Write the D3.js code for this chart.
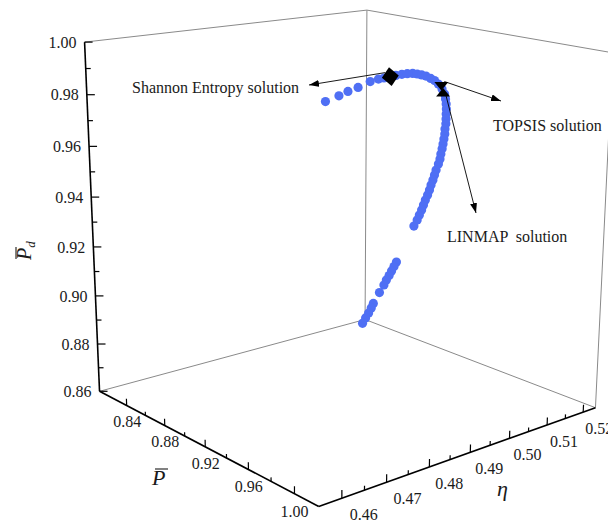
<!DOCTYPE html>
<html>
<head>
<meta charset="utf-8">
<script src="https://cdn.jsdelivr.net/npm/d3@7"></script>
<style>
  body { margin: 0; background: #fff; }
  text { font-family: "Liberation Serif", "Times New Roman", serif; fill: #1a1a1a; }
</style>
</head>
<body>
<div id="container"></div>
<script>
// Pareto front (P-bar, eta, Pd-bar)
const powerVals = [0.990, 0.985, 0.980, 0.975, 0.970, 0.966, 0.961, 0.955, 0.953, 0.950,
  0.948, 0.946, 0.944, 0.941, 0.939, 0.937, 0.935, 0.932, 0.930, 0.928,
  0.926, 0.924, 0.921, 0.919, 0.917, 0.915, 0.913, 0.911, 0.909, 0.907,
  0.904, 0.902, 0.900, 0.898, 0.895, 0.893, 0.891, 0.889, 0.887, 0.885,
  0.883, 0.880, 0.878, 0.876, 0.874, 0.872, 0.856, 0.854, 0.852, 0.850,
  0.848, 0.846, 0.843, 0.838, 0.837, 0.834, 0.832, 0.830];
const etaVals = [0.4645, 0.4687, 0.4720, 0.4756, 0.4797, 0.4827, 0.4854, 0.4886, 0.4905, 0.4928,
  0.4947, 0.4966, 0.4983, 0.5003, 0.5020, 0.5038, 0.5054, 0.5073, 0.5089, 0.5102,
  0.5111, 0.5119, 0.5129, 0.5135, 0.5141, 0.5147, 0.5151, 0.5157, 0.5161, 0.5165,
  0.5172, 0.5175, 0.5179, 0.5181, 0.5184, 0.5186, 0.5188, 0.5189, 0.5191, 0.5192,
  0.5192, 0.5196, 0.5197, 0.5197, 0.5197, 0.5194, 0.5193, 0.5192, 0.5191, 0.5190,
  0.5188, 0.5187, 0.5183, 0.5180, 0.5177, 0.5178, 0.5175, 0.5172];
const pdVals = [0.9935, 0.9939, 0.9941, 0.9941, 0.9947, 0.9945, 0.9938, 0.9930, 0.9928, 0.9924,
  0.9920, 0.9915, 0.9907, 0.9896, 0.9886, 0.9871, 0.9857, 0.9836, 0.9811, 0.9786,
  0.9762, 0.9739, 0.9713, 0.9689, 0.9665, 0.9642, 0.9618, 0.9594, 0.9570, 0.9546,
  0.9520, 0.9495, 0.9471, 0.9447, 0.9417, 0.9393, 0.9369, 0.9344, 0.9320, 0.9296,
  0.9271, 0.9244, 0.9220, 0.9195, 0.9171, 0.9142, 0.8959, 0.8936, 0.8913, 0.8890,
  0.8867, 0.8842, 0.8804, 0.8747, 0.8726, 0.8697, 0.8672, 0.8645];

const shannonPoint = [0.955, 0.4886, 0.9930];
const topsisPoint = [0.931, 0.5084, 0.9823];
const linmapPoint = [0.929, 0.5095, 0.9797];

const powerTicks = [0.84, 0.88, 0.92, 0.96, 1.00];
const powerMinor = [0.86, 0.90, 0.94, 0.98];
const etaTicks = [0.46, 0.47, 0.48, 0.49, 0.50, 0.51, 0.52];
const etaMinor = [0.465, 0.475, 0.485, 0.495, 0.505, 0.515];
const pdTicks = [0.86, 0.88, 0.90, 0.92, 0.94, 0.96, 0.98, 1.00];
const pdMinor = [0.87, 0.89, 0.91, 0.93, 0.95, 0.97, 0.99];

// where the box corners land on screen (camera fit)
const cameraAnchors = [
  [[0, 0, 0], [99, 390]], [[1, 0, 0], [320, 507]], [[1, 1, 0], [595, 408]], [[0, 1, 0], [365, 320]],
  [[0, 0, 1], [84, 43]], [[0, 1, 1], [368, 10]], [[1, 1, 1], [612, 52]]
];

// least squares fit of a 3x4 perspective matrix
function fitCamera(pairs) {
    const A = [], b = [];
    pairs.forEach(([[u, v, w], [x, y]]) => {
        A.push([u, v, w, 1, 0, 0, 0, 0, -x * u, -x * v, -x * w]); b.push(x);
        A.push([0, 0, 0, 0, u, v, w, 1, -y * u, -y * v, -y * w]); b.push(y);
    });
    const n = 11, M = [];
    for (let i = 0; i < n; i++) {
        M.push([]);
        for (let j = 0; j <= n; j++) {
            let s = 0;
            for (let k = 0; k < A.length; k++) s += A[k][i] * (j < n ? A[k][j] : b[k]);
            M[i].push(s);
        }
    }
    for (let i = 0; i < n; i++) {
        let p = i;
        for (let r = i + 1; r < n; r++) if (Math.abs(M[r][i]) > Math.abs(M[p][i])) p = r;
        [M[i], M[p]] = [M[p], M[i]];
        for (let r = 0; r < n; r++) {
            if (r === i) continue;
            const f = M[r][i] / M[i][i];
            for (let c = i; c <= n; c++) M[r][c] -= f * M[i][c];
        }
    }
    const m = [];
    for (let i = 0; i < n; i++) m.push(M[i][n] / M[i][i]);
    m.push(1);
    return m;
}

const cam = fitCamera(cameraAnchors);
function project(u, v, w) {
    const z = cam[8] * u + cam[9] * v + cam[10] * w + cam[11];
    return [(cam[0] * u + cam[1] * v + cam[2] * w + cam[3]) / z,
            (cam[4] * u + cam[5] * v + cam[6] * w + cam[7]) / z];
}

const x = d3.scaleLinear().domain([0.81, 1.02]).range([0, 1]);
const y = d3.scaleLinear().domain([0.455, 0.5235]).range([0, 1]);
const z = d3.scaleLinear().domain([0.86, 1.00]).range([0, 1]);
const pt = (p, e, d) => project(x(p), y(e), z(d));

const svg = d3.select("#container").append("svg")
    .attr("width", 608)
    .attr("height", 522);

const defs = svg.append("defs");
defs.append("marker")
    .attr("id", "arrow")
    .attr("viewBox", "0 0 10 7")
    .attr("refX", 10).attr("refY", 3.5)
    .attr("markerWidth", 10).attr("markerHeight", 7)
    .attr("markerUnits", "userSpaceOnUse")
    .attr("orient", "auto")
  .append("path")
    .attr("d", "M0,0L10,3.5L0,7Z")
    .attr("fill", "#000");

const line = d3.line();

// back walls of the box
const edges = [
    [[0, 0, 0], [0, 1, 0]], [[0, 1, 0], [1, 1, 0]], [[0, 1, 0], [0, 1, 1]],
    [[0, 0, 1], [0, 1, 1]], [[0, 1, 1], [1, 1, 1]], [[1, 1, 0], [1, 1, 1]]
];
svg.append("g").selectAll("path")
    .data(edges)
  .enter().append("path")
    .attr("d", d => line(d.map(c => project(...c))))
    .attr("stroke", "#8a8a8a")
    .attr("stroke-width", 1)
    .attr("fill", "none");

// axes
const axes = svg.append("g").attr("stroke", "#000").attr("fill", "none");
axes.append("path").attr("d", line([project(0, 0, 0), project(0, 0, 1)])).attr("stroke-width", 1.6);
axes.append("path").attr("d", line([project(0, 0, 0), project(1, 0, 0)])).attr("stroke-width", 1.6);
axes.append("path").attr("d", line([project(1, 0, 0), project(1, 1, 0)])).attr("stroke-width", 1.6);

// ticks
const tickG = svg.append("g").attr("stroke", "#000").attr("stroke-width", 1.2);
powerTicks.concat(powerMinor).forEach(p => {
    const len = powerTicks.includes(p) ? 0.02 : 0.011;
    tickG.append("path").attr("d", line([project(x(p), 0, 0), project(x(p), 0, len)]));
});
etaTicks.concat(etaMinor).forEach(e => {
    const len = etaTicks.includes(e) ? 0.022 : 0.012;
    tickG.append("path").attr("d", line([project(1, y(e), 0), project(1, y(e), len)]));
});
pdTicks.concat(pdMinor).forEach(d => {
    const [px, py] = project(0, 0, z(d));
    const len = pdTicks.includes(d) ? 8 : 5;
    tickG.append("path").attr("d", line([[px, py], [px + len, py]]));
});

const labelG = svg.append("g").style("font-size", "16px");
pdTicks.forEach(d => {
    const [px, py] = project(0, 0, z(d));
    labelG.append("text")
        .attr("x", px - 8).attr("y", py)
        .attr("dy", "0.35em")
        .style("text-anchor", "end")
        .text(d.toFixed(2));
});
powerTicks.forEach(p => {
    const [px, py] = project(x(p), 0, -0.047);
    labelG.append("text")
        .attr("x", px).attr("y", py)
        .attr("dy", "0.35em")
        .style("text-anchor", "middle")
        .text(p.toFixed(2));
});
etaTicks.forEach((e, i) => {
    const [px, py] = project(1, y(e), 0);
    labelG.append("text")
        .attr("x", px + 22 - i).attr("y", py + 16.5)
        .attr("dy", "0.35em")
        .style("text-anchor", "middle")
        .text(e.toFixed(2));
});

// axis titles
const titleG = svg.append("g").style("font-size", "22px").style("font-style", "italic");
titleG.append("text").attr("x", 152).attr("y", 485).text("P");
titleG.append("line").attr("x1", 155).attr("x2", 168).attr("y1", 469).attr("y2", 469)
    .attr("stroke", "#1a1a1a").attr("stroke-width", 1.1);
titleG.append("text").attr("x", 497).attr("y", 496).text("η");
const pdTitle = titleG.append("text")
    .attr("transform", "translate(31,260) rotate(-90)")
    .style("font-size", "20px");
pdTitle.append("tspan").text("P");
pdTitle.append("tspan").attr("dy", 4).style("font-size", "13px").text("d");
titleG.append("line").attr("x1", 16).attr("x2", 16).attr("y1", 247).attr("y2", 259)
    .attr("stroke", "#1a1a1a").attr("stroke-width", 1.1);

// Pareto points
const front = powerVals.map((p, i) => ({ p: p, e: etaVals[i], d: pdVals[i] }));
svg.append("g").selectAll("circle")
    .data(front)
  .enter().append("circle")
    .attr("cx", d => pt(d.p, d.e, d.d)[0])
    .attr("cy", d => pt(d.p, d.e, d.d)[1])
    .attr("r", 4.6)
    .style("fill", "#4f6ff4");

// decision points
const sh = pt(...shannonPoint), tp = pt(...topsisPoint), lm = pt(...linmapPoint);
svg.append("path")
    .attr("transform", `translate(${sh[0]},${sh[1]}) rotate(-8)`)
    .attr("d", "M-8.5,0L0,-9.5L8.5,0L0,9.5Z")
    .attr("fill", "#000");
svg.append("path")
    .attr("transform", `translate(${tp[0]},${tp[1]})`)
    .attr("d", "M-7,-4.5L7,-4.5L0,4Z")
    .attr("fill", "#000");
svg.append("path")
    .attr("transform", `translate(${lm[0]},${lm[1]})`)
    .attr("d", "M-7,4.5L7,4.5L0,-4Z")
    .attr("fill", "#000");

// annotations
const notes = [
    { from: [sh[0] - 5, sh[1] - 4], to: [309, 85], label: "Shannon Entropy solution", at: [132, 93] },
    { from: [tp[0] + 3, tp[1] - 5], to: [501, 101], label: "TOPSIS solution", at: [493, 131] },
    { from: [lm[0] + 3, lm[1] + 4], to: [476, 213], label: "LINMAP  solution", at: [447, 241.5] }
];
notes.forEach(n => {
    svg.append("path")
        .attr("d", line([n.from, n.to]))
        .attr("stroke", "#000")
        .attr("stroke-width", 0.9)
        .attr("marker-end", "url(#arrow)");
    svg.append("text")
        .attr("x", n.at[0]).attr("y", n.at[1])
        .style("font-size", "16px")
        .style("white-space", "pre")
        .text(n.label);
});
</script>
</body>
</html>
